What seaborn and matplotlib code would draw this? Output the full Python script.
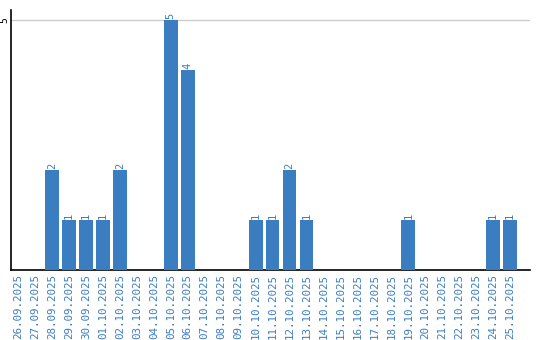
import matplotlib
matplotlib.use("Agg")
import matplotlib.pyplot as plt
import seaborn as sns
import pandas as pd

dates = ["26.09.2025", "27.09.2025", "28.09.2025", "29.09.2025", "30.09.2025",
         "01.10.2025", "02.10.2025", "03.10.2025", "04.10.2025", "05.10.2025",
         "06.10.2025", "07.10.2025", "08.10.2025", "09.10.2025", "10.10.2025",
         "11.10.2025", "12.10.2025", "13.10.2025", "14.10.2025", "15.10.2025",
         "16.10.2025", "17.10.2025", "18.10.2025", "19.10.2025", "20.10.2025",
         "21.10.2025", "22.10.2025", "23.10.2025", "24.10.2025", "25.10.2025"]
counts = [0, 0, 2, 1, 1, 1, 2, 0, 0, 5, 4, 0, 0, 0, 1, 1, 2, 1, 0, 0,
          0, 0, 0, 1, 0, 0, 0, 0, 1, 1]
y_ticks = [5]

blue = "#3b7dc1"
df = pd.DataFrame({"date": dates, "count": counts})

sns.set_style("white")
plt.rcParams["font.family"] = ["DejaVu Sans Mono", "DejaVu Sans"]

fig = plt.figure(figsize=(5.4, 3.4), dpi=100)
ax = fig.add_axes([11 / 540, 70 / 340, 519 / 540, 260 / 340])

sns.barplot(data=df, x="date", y="count", color=blue, width=0.82,
            saturation=1, ax=ax, zorder=3, linewidth=0)

ax.set_xlim(-0.42, 30.18)
ax.set_ylim(0, 5.2)
ax.set_yticks(y_ticks)
ax.set_yticklabels([str(t) for t in y_ticks], rotation=90, va="center",
                   fontsize=7, color="black")
ax.yaxis.grid(True, color="#cccccc", linewidth=1, zorder=0)
ax.xaxis.grid(False)
ax.tick_params(axis="y", length=0, pad=1.5)
ax.tick_params(axis="x", length=0, pad=3, colors=blue, labelsize=7.8, rotation=90)
ax.set_xlabel("")
ax.set_ylabel("")

for s in ["top", "right"]:
    ax.spines[s].set_visible(False)
for s in ["left", "bottom"]:
    ax.spines[s].set_color("black")
    ax.spines[s].set_linewidth(1.2)

cont = ax.containers[0]
labels = [str(v) if v > 0 else "" for v in counts]
ax.bar_label(cont, labels=labels, rotation=90, color=blue, fontsize=7.5, padding=1)

fig.savefig("out.png", dpi=100)
